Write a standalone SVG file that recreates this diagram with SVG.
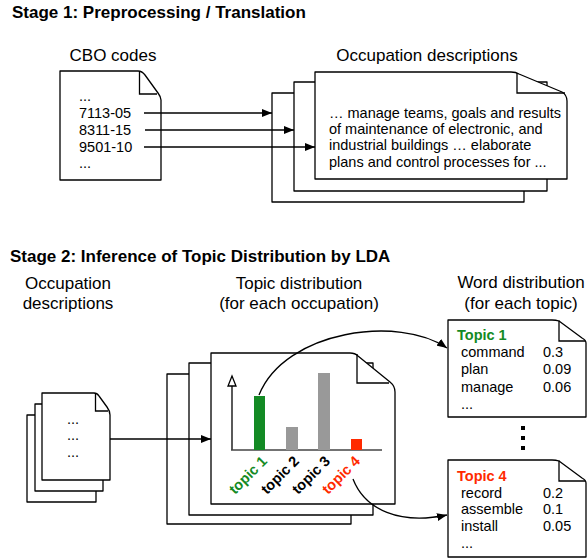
<svg xmlns="http://www.w3.org/2000/svg" width="587" height="560" viewBox="0 0 587 560">
<defs>
<style>
text{font-family:"Liberation Sans",Arial,Helvetica,sans-serif;fill:#000}
.title{font-size:17px;font-weight:bold}
.lbl{font-size:17px;text-anchor:middle}
.body{font-size:14.5px}
.page{fill:#fff;stroke:#000;stroke-width:1.3;stroke-linejoin:round}
.fold{fill:none;stroke:#000;stroke-width:1.3}
.conn{fill:none;stroke:#000;stroke-width:1.3}
.tl{font-size:14.5px;font-weight:bold;text-anchor:end}
.green{fill:#138a24}
.red{fill:#ff2a00}
</style>
<marker id="arr" viewBox="0 0 10 8" refX="10" refY="4" markerWidth="10" markerHeight="8" markerUnits="userSpaceOnUse" orient="auto">
<path d="M0,0 L10,4 L0,8 Z" fill="#000"/>
</marker>
</defs>

<text class="title" x="12" y="18">Stage 1: Preprocessing / Translation</text>
<text class="title" x="10" y="262">Stage 2: Inference of Topic Distribution by LDA</text>

<g id="cbo-codes">
<text class="lbl" x="113" y="61">CBO codes</text>
<path class="page" d="M60,71 H138 Q142,71 145,75 L158,93 Q161,97 161,100 V180 H60 Z"/>
<path class="fold" d="M139.5,71.5 V94 H157"/>
<text class="body" x="79" y="101">...</text>
<text class="body" x="79" y="118">7113-05</text>
<text class="body" x="79" y="135">8311-15</text>
<text class="body" x="79" y="152">9501-10</text>
<text class="body" x="79" y="168">...</text>
</g>

<g id="occupation-descriptions-1">
<text class="lbl" x="427" y="61">Occupation descriptions</text>
<rect class="page" x="272" y="93" width="252" height="109"/>
<rect class="page" x="294" y="82" width="253" height="109"/>
<path class="page" d="M315,72 H511 Q516,72 519,74 L562,92 Q567,95 567,101 V179 H315 Z"/>
<path class="fold" d="M517,73 V93 H565"/>
<text class="body" x="329" y="118">… manage teams, goals and results</text>
<text class="body" x="329" y="134">of maintenance of electronic, and</text>
<text class="body" x="329" y="150">industrial buildings … elaborate</text>
<text class="body" x="329" y="167">plans and control processes for ...</text>
</g>

<g id="occupation-descriptions-2">
<text class="lbl" x="68" y="289">Occupation</text>
<text class="lbl" x="68" y="309">descriptions</text>
<rect class="page" x="27" y="415" width="69" height="87"/>
<rect class="page" x="35" y="404" width="68" height="87"/>
<path class="page" d="M42,393 H94 Q97,393 99,396 L107,407 Q110,411 110,415 V480 H42 Z"/>
<path class="fold" d="M95.5,393.5 V411 H108"/>
<text class="body" x="73" y="424" text-anchor="middle">...</text>
<text class="body" x="73" y="440" text-anchor="middle">...</text>
<text class="body" x="73" y="457" text-anchor="middle">...</text>
</g>

<g id="topic-distribution">
<text class="lbl" x="299" y="289">Topic distribution</text>
<text class="lbl" x="299" y="309">(for each occupation)</text>
<rect class="page" x="167" y="374" width="184" height="150"/>
<rect class="page" x="189" y="363" width="184" height="152"/>
<path class="page" d="M211,353 H350 Q355,353 358,356 L390,382 Q395,386 395,392 V504 H211 Z"/>
<path class="fold" d="M357,354 V383 H389"/>
<line x1="232" y1="450" x2="232" y2="386" stroke="#000" stroke-width="1.3"/>
<path d="M232,376 L236,386 L228,386 Z" fill="#fff" stroke="#000" stroke-width="1.3"/>
<line x1="231" y1="450" x2="382" y2="450" stroke="#444" stroke-width="1.5"/>
<rect x="254" y="396" width="11" height="54" fill="#138a24"/>
<rect x="286" y="427" width="12" height="23" fill="#999"/>
<rect x="318" y="373" width="12" height="77" fill="#999"/>
<rect x="351" y="439" width="11" height="11" fill="#ff2a00"/>
<text class="tl green" transform="translate(268,462) rotate(-45)">topic 1</text>
<text class="tl" transform="translate(300,462) rotate(-45)">topic 2</text>
<text class="tl" transform="translate(331,462) rotate(-45)">topic 3</text>
<text class="tl red" transform="translate(361,462) rotate(-45)">topic 4</text>
</g>

<g id="word-distribution">
<text class="lbl" x="521" y="288">Word distribution</text>
<text class="lbl" x="521" y="309">(for each topic)</text>
</g>

<g id="topic-1">
<path class="page" d="M448,320 H552 Q556,320 559,321 L582,338 Q586,340 586,343 V417 H448 Z"/>
<path class="fold" d="M559,320.5 V341 H585"/>
<text class="body green" x="457" y="340" font-weight="bold">Topic 1</text>
<text class="body" x="461" y="357">command</text>
<text class="body" x="543" y="357">0.3</text>
<text class="body" x="461" y="374">plan</text>
<text class="body" x="543" y="374">0.09</text>
<text class="body" x="461" y="392">manage</text>
<text class="body" x="543" y="392">0.06</text>
<text class="body" x="461" y="409">...</text>
</g>

<g id="vertical-dots">
<rect x="521" y="426" width="4" height="4" fill="#000"/>
<rect x="521" y="436" width="4" height="4" fill="#000"/>
<rect x="521" y="446" width="4" height="4" fill="#000"/>
</g>

<g id="topic-4">
<path class="page" d="M448,460 H552 Q556,460 559,461 L582,478 Q586,480 586,483 V557 H448 Z"/>
<path class="fold" d="M559,460.5 V481 H585"/>
<text class="body red" x="457" y="481" font-weight="bold">Topic 4</text>
<text class="body" x="461" y="498">record</text>
<text class="body" x="543" y="498">0.2</text>
<text class="body" x="461" y="514">assemble</text>
<text class="body" x="543" y="514">0.1</text>
<text class="body" x="461" y="531">install</text>
<text class="body" x="543" y="531">0.05</text>
<text class="body" x="461" y="548">...</text>
</g>

<g id="connectors">
<line class="conn" x1="144" y1="113" x2="272" y2="113" marker-end="url(#arr)"/>
<line class="conn" x1="145" y1="130" x2="294" y2="130" marker-end="url(#arr)"/>
<line class="conn" x1="144" y1="147" x2="315" y2="147" marker-end="url(#arr)"/>
<line class="conn" x1="110" y1="439" x2="211" y2="439" marker-end="url(#arr)"/>
<path class="conn" d="M259,395 C285,330 400,315 447,348" marker-end="url(#arr)"/>
<path class="conn" d="M353,479 C365,510 400,525 447,515" marker-end="url(#arr)"/>
</g>
</svg>
